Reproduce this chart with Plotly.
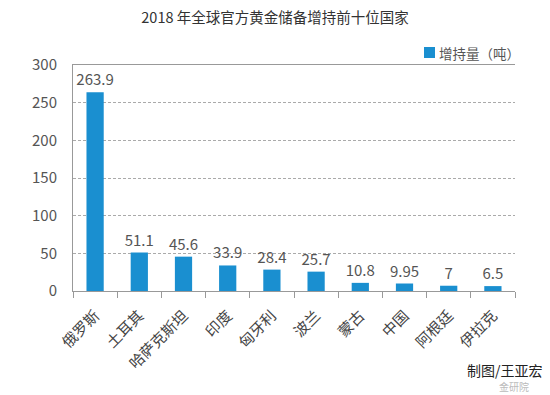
import plotly.graph_objects as go

countries = ["俄罗斯", "土耳其", "哈萨克斯坦", "印度", "匈牙利", "波兰", "蒙古", "中国", "阿根廷", "伊拉克"]
values = [263.9, 51.1, 45.6, 33.9, 28.4, 25.7, 10.8, 9.95, 7, 6.5]
labels = ["263.9", "51.1", "45.6", "33.9", "28.4", "25.7", "10.8", "9.95", "7", "6.5"]
y_ticks = [0, 50, 100, 150, 200, 250, 300]

FONT = "Noto Sans CJK SC"
GRAY = "#555555"
BLUE = "#1a8fd0"

fig = go.Figure(go.Bar(
    x=countries, y=values, text=labels, textposition="outside",
    constraintext="none",
    textfont=dict(size=15, color=GRAY, family=FONT),
    marker=dict(color=BLUE, line=dict(width=0)),
    name="增持量（吨）", showlegend=False, cliponaxis=False,
))

fig.update_layout(
    width=550, height=395,
    margin=dict(l=73, r=35, t=65, b=104, autoexpand=False),
    paper_bgcolor="white", plot_bgcolor="white",
    bargap=0.61,
    font=dict(family=FONT, color=GRAY),
    title=dict(text="2018 年全球官方黄金储备增持前十位国家", x=0.5, xanchor="center",
               y=0.955, yanchor="middle", font=dict(size=14.5, color="#333333", family=FONT)),
    xaxis=dict(tickangle=-45, tickfont=dict(size=15, color="#444444"),
               showline=True, linecolor="#999999", linewidth=1, mirror=True,
               ticks="outside", tickson="boundaries", ticklen=6, tickcolor="#999999",
               showgrid=False, automargin=False, ticklabelstandoff=9),
    yaxis=dict(range=[0, 300], tickvals=y_ticks, tickfont=dict(size=15, color=GRAY),
               showline=True, linecolor="#999999", linewidth=1,
               showgrid=True, gridcolor="#aaaaaa", griddash="3px,2px", gridwidth=1,
               zeroline=False, ticks="", ticklabelstandoff=12, automargin=False),
)

# legend (manual, to match compact spacing)
fig.add_shape(type="rect", xref="paper", yref="paper",
              x0=(424 - 73) / 442, x1=(435 - 73) / 442,
              y0=(291 - 58) / 226, y1=(291 - 47) / 226,
              fillcolor=BLUE, line=dict(width=0))
fig.add_annotation(text="增持量（吨）", xref="paper", yref="paper",
                   x=(437 - 73) / 442, xanchor="left", y=(291 - 52.5) / 226, yanchor="middle",
                   showarrow=False, font=dict(size=13.5, color=GRAY))

fig.add_annotation(text="制图/王亚宏", x=1.0, xref="paper", xanchor="left",
                   xshift=-50, y=(291 - 370) / 226, yref="paper", yanchor="middle",
                   showarrow=False, font=dict(size=14, color="#222222"))
fig.add_annotation(text="金研院", x=1.0, xref="paper", xanchor="left",
                   xshift=-18, y=(291 - 386.5) / 226, yref="paper", yanchor="middle",
                   showarrow=False, font=dict(size=10, color="#bbbbbb"))

fig.write_html("out.html", post_script="document.body.style.margin='0';",
               config={"displayModeBar": False})
